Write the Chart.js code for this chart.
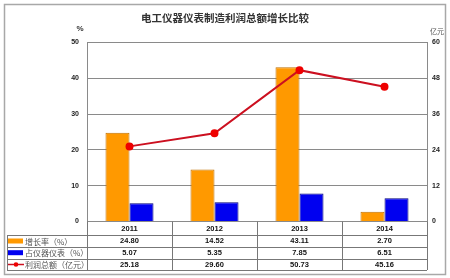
<!DOCTYPE html>
<html><head><meta charset="utf-8">
<script src="https://cdn.jsdelivr.net/npm/chart.js@4"></script>
<style>html,body{margin:0;padding:0;background:#fff;}canvas{display:block;}</style>
</head><body>
<canvas id="c" width="450" height="278"></canvas>
<script>
const title = "电工仪器仪表制造利润总额增长比较";
const years = ["2011", "2012", "2013", "2014"];
const growthRate = [24.80, 14.52, 43.11, 2.70];
const shareOfInstruments = [5.07, 5.35, 7.85, 6.51];
const totalProfit = [25.18, 29.60, 50.73, 45.16];
const seriesNames = ["增长率（%）", "占仪器仪表（%）", "利润总额（亿元）"];
const leftTicks = [0, 10, 20, 30, 40, 50];
const rightTicks = [0, 12, 24, 36, 48, 60];

const colors = { orange: "#FF9900", orangeBorder: "#C07000", blue: "#0000F0", blueBorder: "#00007A", red: "#CC1020", redPoint: "#EE0000" };

const tablePlugin = {
  id: "tablePlugin",
  afterDraw(chart) {
    const ctx = chart.ctx;
    const ca = chart.chartArea;
    const x = chart.scales.x;
    ctx.save();
    // outer frame
    ctx.strokeStyle = "#a8a8a8";
    ctx.lineWidth = 1.5;
    ctx.strokeRect(4.5, 4.5, 441, 270);
    // title
    ctx.fillStyle = "#333";
    ctx.font = "bold 10.5px 'Noto Sans CJK SC'";
    ctx.textAlign = "center";
    ctx.textBaseline = "middle";
    ctx.fillText(title, 225, 18);
    ctx.font = "bold 8px Arial, 'Liberation Sans'";
    ctx.fillText("%", 80, 29);
    ctx.font = "7px 'Noto Sans CJK SC'";
    ctx.fillStyle = "#555";
    ctx.fillText("亿元", 437, 31);

    // table grid
    const step = (x.getPixelForValue(1) - x.getPixelForValue(0));
    const left0 = x.getPixelForValue(0) - step / 2;
    const right = x.getPixelForValue(years.length - 1) + step / 2;
    const rowLines = [235, 246.5, 258.5, 270];
    const rowCenters = [229, 241, 252.7, 264.5];
    const tl = 7;
    ctx.strokeStyle = "#777";
    ctx.lineWidth = 1;
    ctx.beginPath();
    for (let i = 0; i <= years.length; i++) {
      const xx = Math.round(left0 + i * step) + 0.5;
      ctx.moveTo(xx, ca.bottom);
      ctx.lineTo(xx, rowLines[3]);
    }
    ctx.moveTo(tl + 0.5, rowLines[0]);
    ctx.lineTo(tl + 0.5, rowLines[3]);
    rowLines.forEach(y => {
      ctx.moveTo(tl, Math.round(y) + 0.5);
      ctx.lineTo(right, Math.round(y) + 0.5);
    });
    ctx.stroke();

    // table text
    ctx.fillStyle = "#111";
    ctx.font = "bold 7.5px Arial, 'Liberation Sans'";
    ctx.textAlign = "center";
    const rows = [growthRate, shareOfInstruments, totalProfit];
    years.forEach((yr, i) => {
      const cx = x.getPixelForValue(i);
      ctx.fillText(yr, cx, rowCenters[0]);
      rows.forEach((r, j) => ctx.fillText(r[i].toFixed(2), cx, rowCenters[j + 1]));
    });

    // legend entries
    ctx.textAlign = "left";
    ctx.font = "8px 'Noto Sans CJK SC'";
    ctx.fillStyle = colors.orange;
    ctx.fillRect(8, rowCenters[1] - 2.5, 15, 5);
    ctx.fillStyle = colors.blue;
    ctx.fillRect(8, rowCenters[2] - 2.5, 15, 5);
    ctx.strokeStyle = colors.red;
    ctx.lineWidth = 1.5;
    ctx.beginPath();
    ctx.moveTo(8, rowCenters[3]);
    ctx.lineTo(24, rowCenters[3]);
    ctx.stroke();
    ctx.fillStyle = colors.redPoint;
    ctx.beginPath();
    ctx.arc(16, rowCenters[3], 2.3, 0, Math.PI * 2);
    ctx.fill();
    ctx.fillStyle = "#555";
    seriesNames.forEach((n, j) => ctx.fillText(n, 25, rowCenters[j + 1] + 0.5));
    ctx.restore();
  }
};

new Chart(document.getElementById("c"), {
  data: {
    labels: years,
    datasets: [
      { type: "line", label: seriesNames[2], data: totalProfit, yAxisID: "y1", order: 0,
        borderColor: colors.red, borderWidth: 2, pointBackgroundColor: colors.redPoint, pointBorderColor: colors.redPoint,
        pointRadius: 3, tension: 0 },
      { type: "bar", label: seriesNames[0], data: growthRate, yAxisID: "y", order: 1,
        backgroundColor: colors.orange, borderColor: colors.orangeBorder, borderWidth: 1,
        categoryPercentage: 0.565, barPercentage: 1 },
      { type: "bar", label: seriesNames[1], data: shareOfInstruments, yAxisID: "y", order: 2,
        backgroundColor: colors.blue, borderColor: colors.blueBorder, borderWidth: 1,
        categoryPercentage: 0.565, barPercentage: 1 }
    ]
  },
  options: {
    responsive: false,
    animation: false,
    devicePixelRatio: 1,
    layout: { padding: { left: 0, right: 0, top: 42.5, bottom: 56.5 } },
    plugins: { legend: { display: false }, tooltip: { enabled: false }, title: { display: false } },
    scales: {
      x: { display: false, offset: true },
      y: {
        position: "left", min: 0, max: 50,
        afterBuildTicks: s => { s.ticks = leftTicks.map(v => ({ value: v })); },
        afterFit: s => { s.width = 87; },
        grid: { color: "#8a8a8a", lineWidth: 1, drawTicks: false },
        border: { color: "#8a8a8a" },
        ticks: { padding: 8, color: "#222", font: { family: "Arial", size: 7, weight: "bold" } }
      },
      y1: {
        position: "right", min: 0, max: 60,
        afterBuildTicks: s => { s.ticks = rightTicks.map(v => ({ value: v })); },
        afterFit: s => { s.width = 23; },
        grid: { display: false, drawTicks: false },
        border: { color: "#8a8a8a" },
        ticks: { padding: 5, color: "#222", font: { family: "Arial", size: 7, weight: "bold" } }
      }
    }
  },
  plugins: [tablePlugin]
});
</script>
</body></html>
